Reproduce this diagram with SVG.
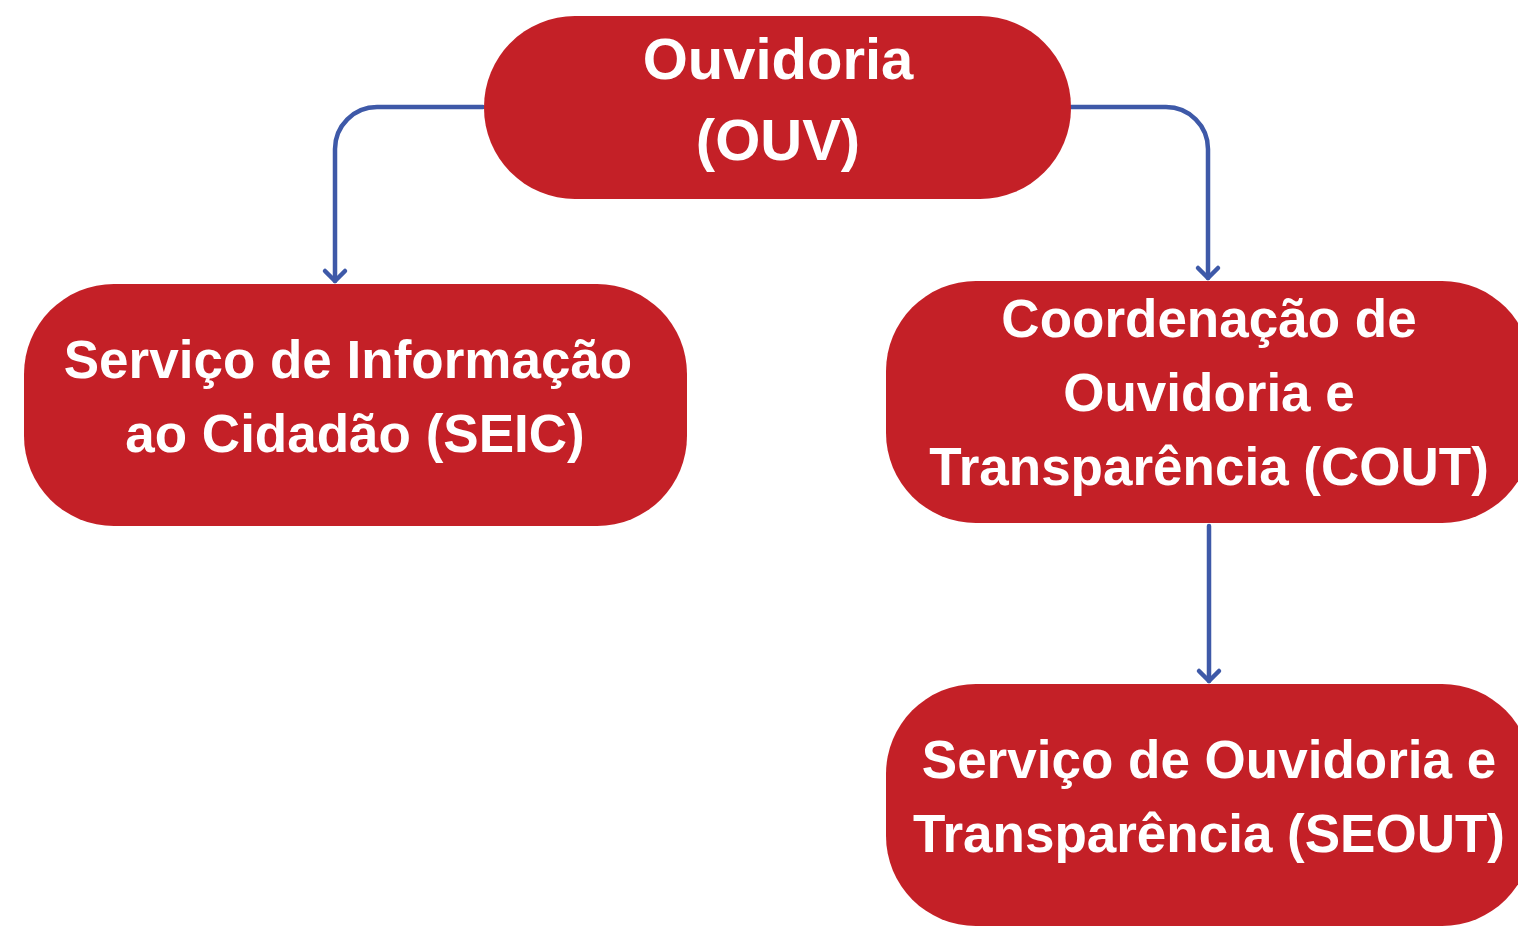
<svg xmlns="http://www.w3.org/2000/svg" width="1518" height="928" viewBox="0 0 1518 928">
<style>
.node{fill:#C42027;}
.lbl{fill:#FFFFFF;font-family:"Liberation Sans",Arial,sans-serif;font-weight:bold;text-anchor:middle;}
.conn{fill:none;stroke:#3E59A8;stroke-width:4.5;stroke-linecap:round;stroke-linejoin:round;}
</style>
<defs>
<marker id="arr" markerUnits="userSpaceOnUse" markerWidth="30" markerHeight="30" viewBox="-15 -15 30 30" refX="0" refY="0" orient="auto">
<path d="M-10,-10 L0,0 L-10,10" fill="none" stroke="#3E59A8" stroke-width="4.5" stroke-linecap="round" stroke-linejoin="round"/>
</marker>
</defs>
<rect width="1518" height="928" fill="#FFFFFF"/>
<g id="connectors">
<path class="conn" d="M483,107 L377,107 A42,42 0 0 0 335,149 L335,281" marker-end="url(#arr)"/>
<path class="conn" d="M1071,107 L1166,107 A42,42 0 0 1 1208,149 L1208,278" marker-end="url(#arr)"/>
<path class="conn" d="M1209,526 L1209,681" marker-end="url(#arr)"/>
</g>
<g id="node-ouv">
<rect class="node" x="484" y="16" width="587" height="183" rx="91" ry="91"/>
<text class="lbl" font-size="58" x="778" y="79">Ouvidoria</text>
<text class="lbl" font-size="58" x="778" y="160">(OUV)</text>
</g>
<g id="node-seic">
<rect class="node" x="24" y="284" width="663" height="242" rx="90" ry="90"/>
<text class="lbl" font-size="53" x="348" y="378">Serviço de Informação</text>
<text class="lbl" font-size="53" x="355" y="452">ao Cidadão (SEIC)</text>
</g>
<g id="node-cout">
<rect class="node" x="886" y="281" width="646" height="242" rx="90" ry="90"/>
<text class="lbl" font-size="53" x="1209" y="337">Coordenação de</text>
<text class="lbl" font-size="53" x="1209" y="411">Ouvidoria e</text>
<text class="lbl" font-size="53" x="1209" y="485">Transparência (COUT)</text>
</g>
<g id="node-seout">
<rect class="node" x="886" y="684" width="646" height="242" rx="90" ry="90"/>
<text class="lbl" font-size="53" x="1209" y="778">Serviço de Ouvidoria e</text>
<text class="lbl" font-size="53" x="1209" y="852">Transparência (SEOUT)</text>
</g>
</svg>
